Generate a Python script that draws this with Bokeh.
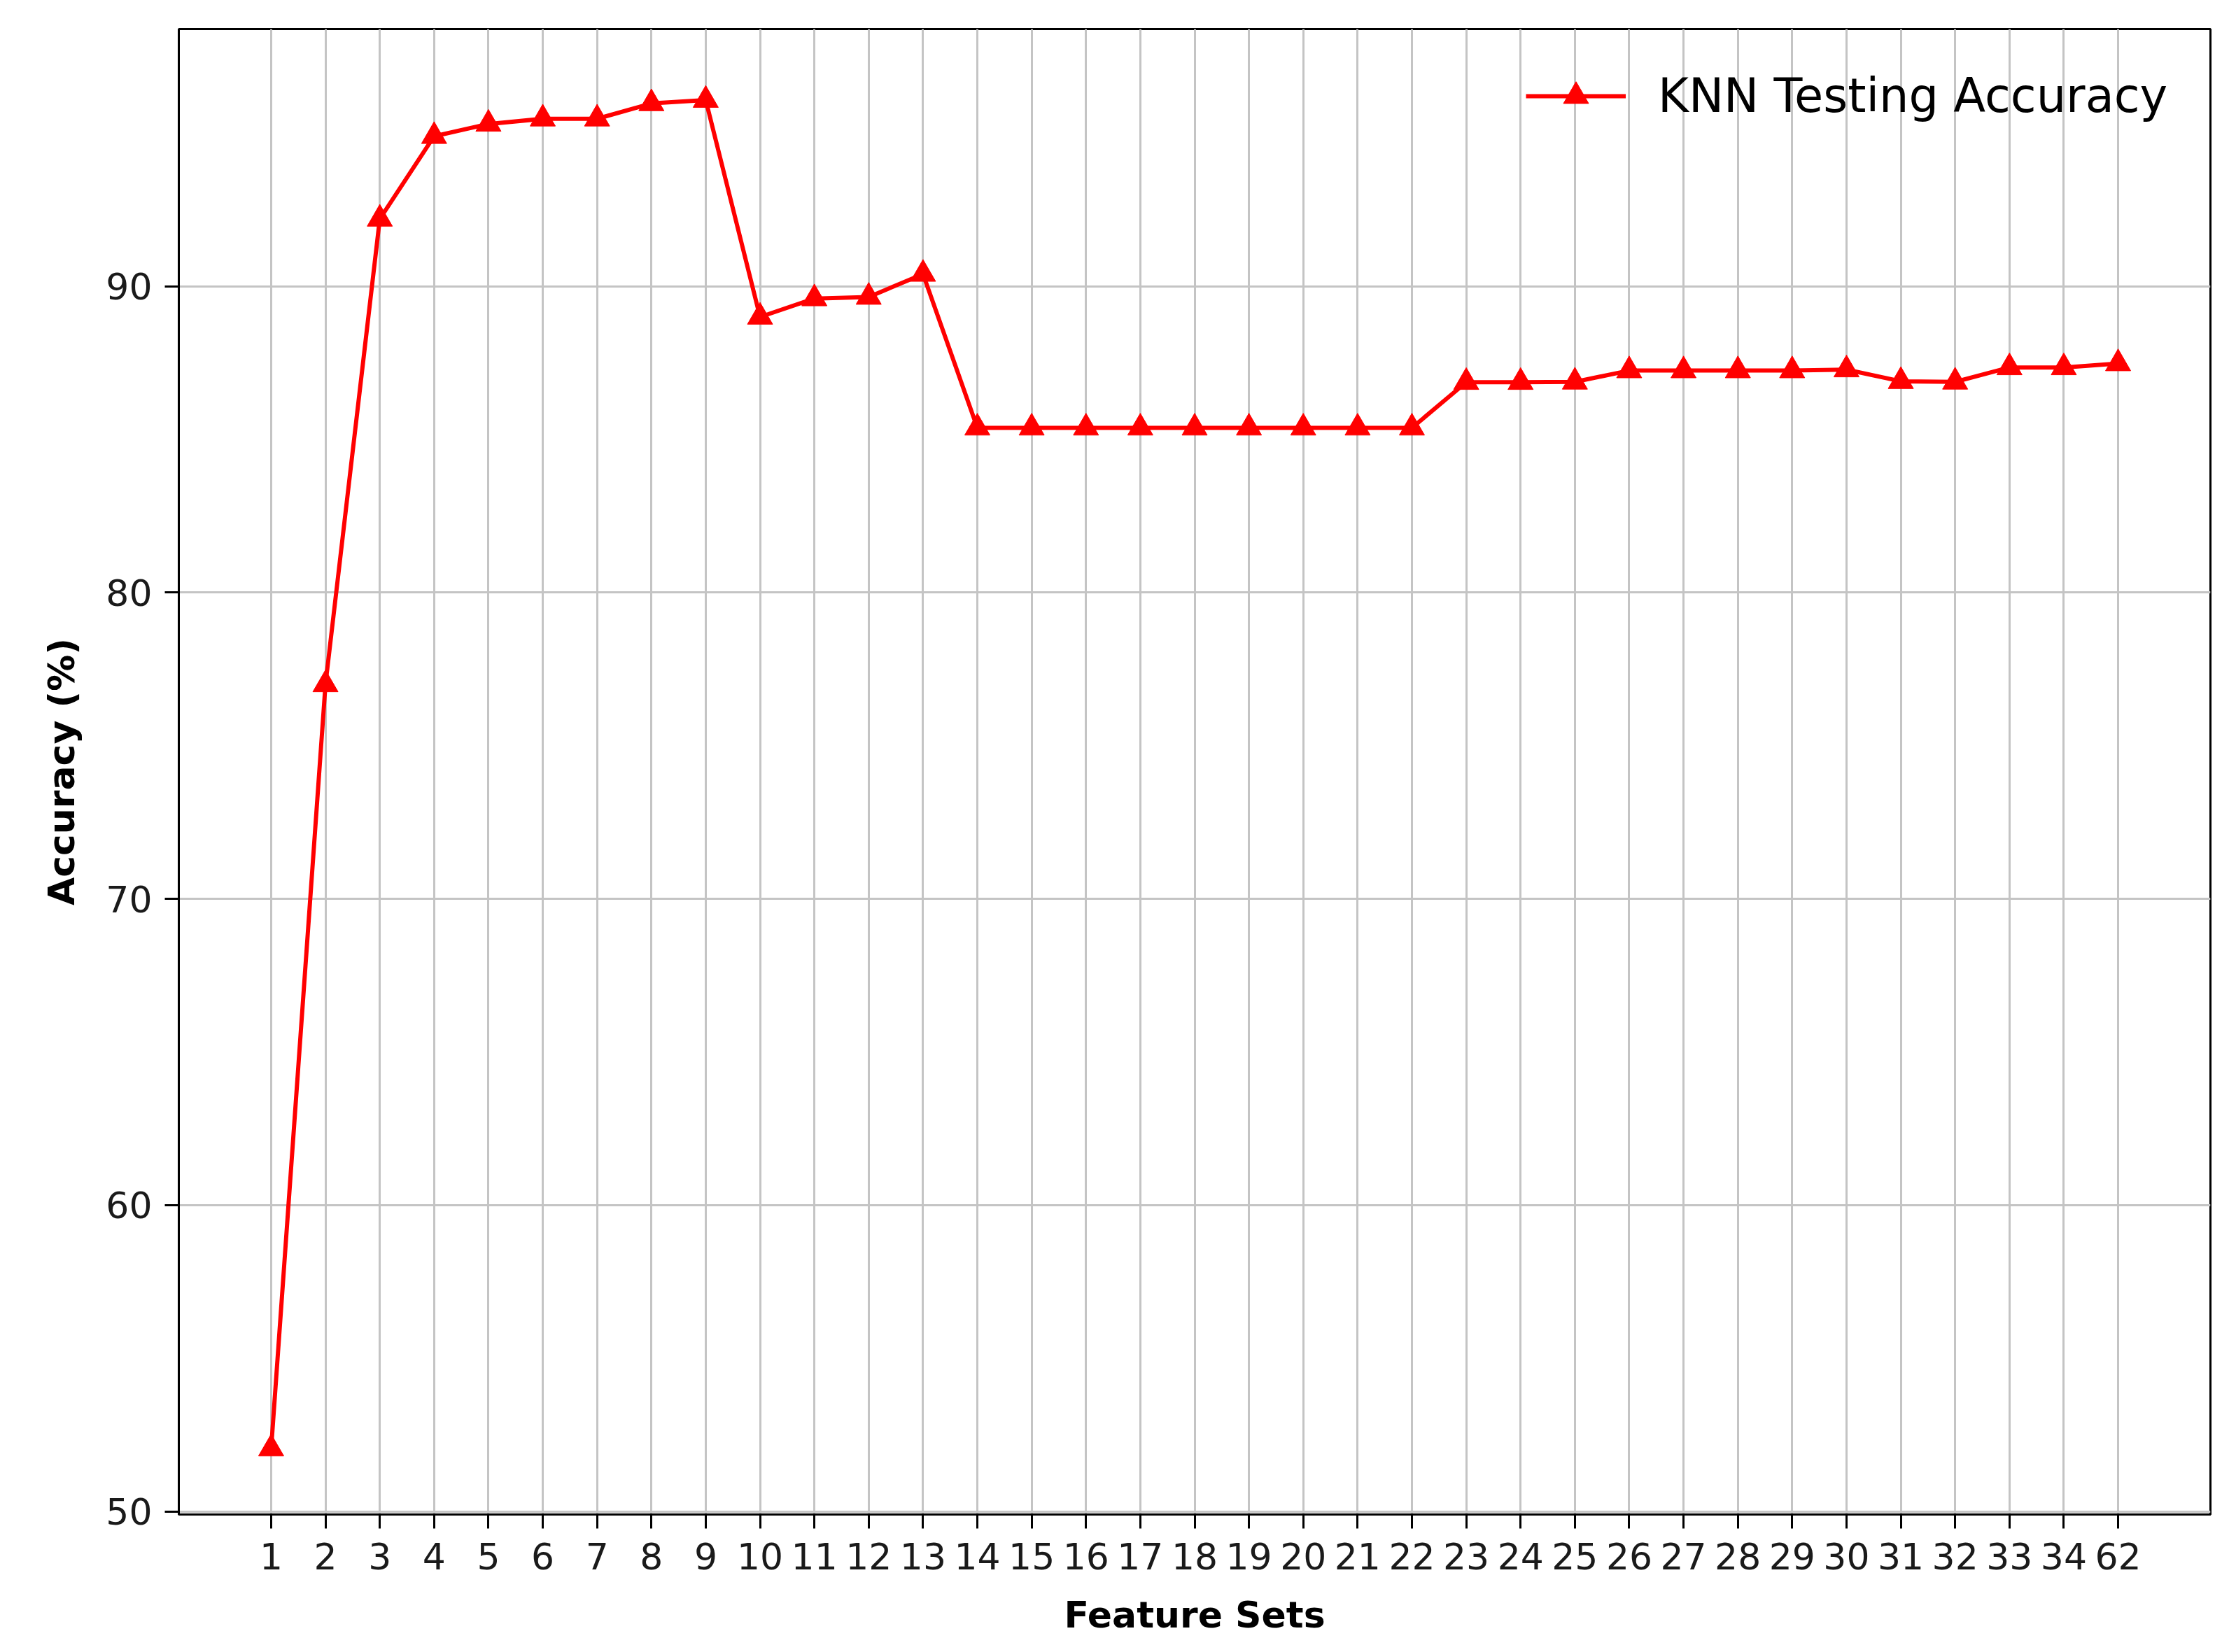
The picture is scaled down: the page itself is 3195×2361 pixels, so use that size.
from bokeh.plotting import figure
from bokeh.models import Range1d, FixedTicker, Legend, LegendItem
from bokeh.embed import file_html
from bokeh.resources import INLINE

# ---- data ----
feature_sets = ["1", "2", "3", "4", "5", "6", "7", "8", "9", "10", "11", "12", "13",
                "14", "15", "16", "17", "18", "19", "20", "21", "22", "23", "24",
                "25", "26", "27", "28", "29", "30", "31", "32", "33", "34", "62"]
accuracy = [52.05, 77.0, 92.2, 94.9, 95.3, 95.47, 95.47, 95.97, 96.08,
            89.0, 89.6, 89.65, 90.4,
            85.38, 85.38, 85.38, 85.38, 85.38, 85.38, 85.38, 85.38, 85.38,
            86.87, 86.87, 86.88, 87.25, 87.25, 87.25, 87.25, 87.28,
            86.9, 86.88, 87.35, 87.35, 87.48]
y_ticks = [50, 60, 70, 80, 90]
series_name = "KNN Testing Accuracy"
x_label = "Feature Sets"
y_label = "Accuracy (%)"

xs = list(range(1, len(feature_sets) + 1))
FONT = "DejaVu Sans"

p = figure(width=3185, height=2349, output_backend="svg", toolbar_location=None,
           x_range=Range1d(1 - 1.7, len(xs) + 1.7), y_range=Range1d(49.9, 98.4),
           min_border_left=255, min_border_top=41, min_border_right=27,
           min_border_bottom=185)

p.background_fill_color = "white"
p.border_fill_color = "white"
p.outline_line_color = "black"
p.outline_line_width = 3

# grid
for g in (p.xgrid, p.ygrid):
    g.grid_line_color = "#c4c4c4"
    g.grid_line_width = 3
p.xaxis.ticker = FixedTicker(ticks=xs)
p.yaxis.ticker = FixedTicker(ticks=y_ticks)
p.xaxis.major_label_overrides = {x: lab for x, lab in zip(xs, feature_sets)}

for ax in (p.xaxis, p.yaxis):
    ax.axis_line_color = "black"
    ax.axis_line_width = 3
    ax.major_tick_line_color = "black"
    ax.major_tick_line_width = 3
    ax.major_tick_in = 0
    ax.major_tick_out = 20
    ax.minor_tick_line_color = None
    ax.major_label_text_font = FONT
    ax.major_label_text_font_size = "52px"
    ax.major_label_text_color = "#1a1a1a"
    ax.axis_label_text_font = FONT
    ax.axis_label_text_font_size = "52px"
    ax.axis_label_text_font_style = "bold"
    ax.axis_label_text_color = "black"

p.xaxis.axis_label = x_label
p.yaxis.axis_label = y_label
p.xaxis.major_label_standoff = 20
p.yaxis.major_label_standoff = 18
p.xaxis.axis_label_standoff = 32
p.yaxis.axis_label_standoff = 30

line = p.line(xs, accuracy, line_color="#ff0000", line_width=6)
marks = p.scatter(xs, accuracy, marker="triangle", size=36,
                  fill_color="#ff0000", line_color="#ff0000")

legend = Legend(items=[LegendItem(label=series_name, renderers=[line, marks])],
                location=(1905, 1962))
legend.background_fill_alpha = 0
legend.border_line_alpha = 0
legend.label_text_font = FONT
legend.label_text_font_size = "67px"
legend.label_text_color = "black"
legend.glyph_width = 143
legend.glyph_height = 90
legend.label_height = 90
legend.label_standoff = 46
legend.margin = 0
legend.padding = 20
legend.spacing = 0
p.add_layout(legend)

open("out.html", "w").write(file_html(p, INLINE))
